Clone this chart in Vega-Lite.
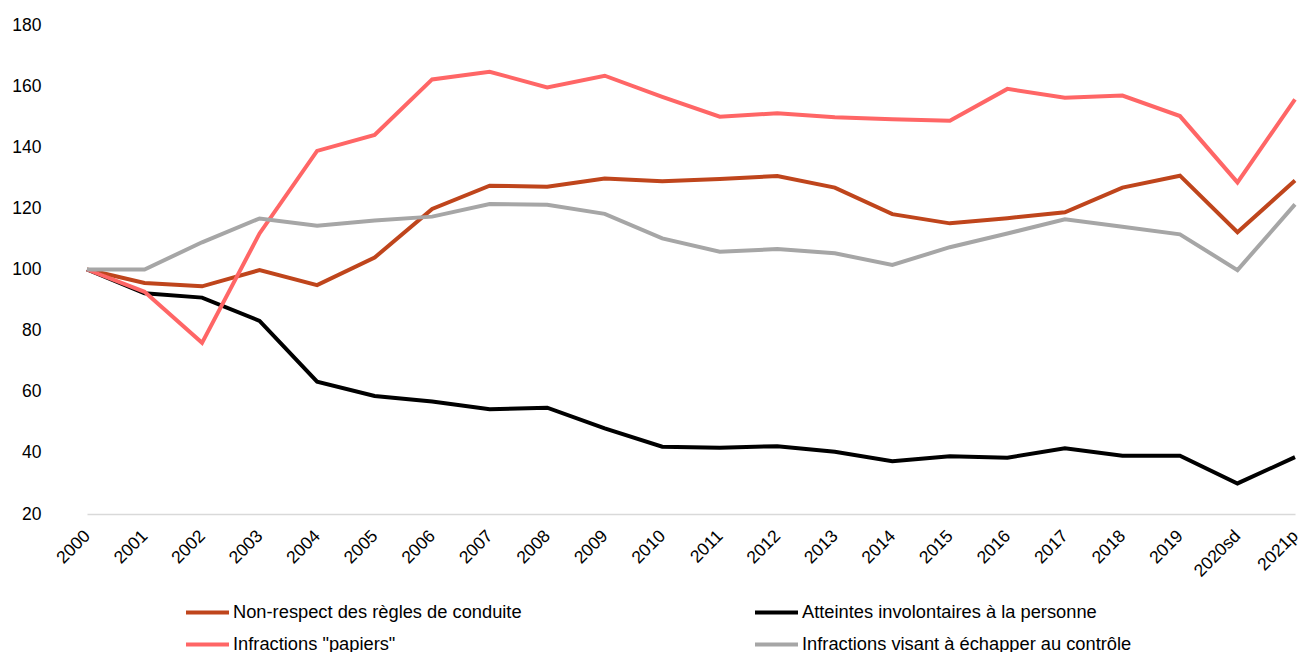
{
  "$schema": "https://vega.github.io/schema/vega-lite/v6.json",
  "autosize": {"type": "none"},
  "padding": {"left": 58, "top": 25, "right": 0, "bottom": 138},
  "width": 1254,
  "height": 489,
  "background": "white",
  "config": {
    "view": {"stroke": null},
    "font": "Liberation Sans",
    "axis": {"labelFont": "Liberation Sans", "labelFontSize": 17.5, "labelColor": "#000000", "grid": false, "ticks": false},
    "legend": {"labelFont": "Liberation Sans", "labelFontSize": 18.3, "labelColor": "#000000"}
  },
  "data": {
    "values": [
      {"year": "2000", "serie": "Non-respect des règles de conduite", "value": 100},
      {"year": "2001", "serie": "Non-respect des règles de conduite", "value": 95.6},
      {"year": "2002", "serie": "Non-respect des règles de conduite", "value": 94.5},
      {"year": "2003", "serie": "Non-respect des règles de conduite", "value": 99.8},
      {"year": "2004", "serie": "Non-respect des règles de conduite", "value": 94.9},
      {"year": "2005", "serie": "Non-respect des règles de conduite", "value": 103.9},
      {"year": "2006", "serie": "Non-respect des règles de conduite", "value": 119.8},
      {"year": "2007", "serie": "Non-respect des règles de conduite", "value": 127.4},
      {"year": "2008", "serie": "Non-respect des règles de conduite", "value": 127.1},
      {"year": "2009", "serie": "Non-respect des règles de conduite", "value": 129.8},
      {"year": "2010", "serie": "Non-respect des règles de conduite", "value": 128.9},
      {"year": "2011", "serie": "Non-respect des règles de conduite", "value": 129.6},
      {"year": "2012", "serie": "Non-respect des règles de conduite", "value": 130.6},
      {"year": "2013", "serie": "Non-respect des règles de conduite", "value": 126.8},
      {"year": "2014", "serie": "Non-respect des règles de conduite", "value": 118.1},
      {"year": "2015", "serie": "Non-respect des règles de conduite", "value": 115.1},
      {"year": "2016", "serie": "Non-respect des règles de conduite", "value": 116.8},
      {"year": "2017", "serie": "Non-respect des règles de conduite", "value": 118.7},
      {"year": "2018", "serie": "Non-respect des règles de conduite", "value": 126.8},
      {"year": "2019", "serie": "Non-respect des règles de conduite", "value": 130.7},
      {"year": "2020sd", "serie": "Non-respect des règles de conduite", "value": 112.2},
      {"year": "2021p", "serie": "Non-respect des règles de conduite", "value": 129.1},
      {"year": "2000", "serie": "Atteintes involontaires à la personne", "value": 100},
      {"year": "2001", "serie": "Atteintes involontaires à la personne", "value": 92.2},
      {"year": "2002", "serie": "Atteintes involontaires à la personne", "value": 90.8},
      {"year": "2003", "serie": "Atteintes involontaires à la personne", "value": 83.2},
      {"year": "2004", "serie": "Atteintes involontaires à la personne", "value": 63.3},
      {"year": "2005", "serie": "Atteintes involontaires à la personne", "value": 58.6},
      {"year": "2006", "serie": "Atteintes involontaires à la personne", "value": 56.8},
      {"year": "2007", "serie": "Atteintes involontaires à la personne", "value": 54.3},
      {"year": "2008", "serie": "Atteintes involontaires à la personne", "value": 54.8},
      {"year": "2009", "serie": "Atteintes involontaires à la personne", "value": 48.0},
      {"year": "2010", "serie": "Atteintes involontaires à la personne", "value": 42.0},
      {"year": "2011", "serie": "Atteintes involontaires à la personne", "value": 41.7},
      {"year": "2012", "serie": "Atteintes involontaires à la personne", "value": 42.2},
      {"year": "2013", "serie": "Atteintes involontaires à la personne", "value": 40.4},
      {"year": "2014", "serie": "Atteintes involontaires à la personne", "value": 37.3},
      {"year": "2015", "serie": "Atteintes involontaires à la personne", "value": 38.9},
      {"year": "2016", "serie": "Atteintes involontaires à la personne", "value": 38.4},
      {"year": "2017", "serie": "Atteintes involontaires à la personne", "value": 41.5},
      {"year": "2018", "serie": "Atteintes involontaires à la personne", "value": 39.1},
      {"year": "2019", "serie": "Atteintes involontaires à la personne", "value": 39.1},
      {"year": "2020sd", "serie": "Atteintes involontaires à la personne", "value": 30.0},
      {"year": "2021p", "serie": "Atteintes involontaires à la personne", "value": 38.6},
      {"year": "2000", "serie": "Infractions \"papiers\"", "value": 100},
      {"year": "2001", "serie": "Infractions \"papiers\"", "value": 92.7},
      {"year": "2002", "serie": "Infractions \"papiers\"", "value": 76.0},
      {"year": "2003", "serie": "Infractions \"papiers\"", "value": 111.8},
      {"year": "2004", "serie": "Infractions \"papiers\"", "value": 138.8},
      {"year": "2005", "serie": "Infractions \"papiers\"", "value": 144.0},
      {"year": "2006", "serie": "Infractions \"papiers\"", "value": 162.2},
      {"year": "2007", "serie": "Infractions \"papiers\"", "value": 164.7},
      {"year": "2008", "serie": "Infractions \"papiers\"", "value": 159.6},
      {"year": "2009", "serie": "Infractions \"papiers\"", "value": 163.4},
      {"year": "2010", "serie": "Infractions \"papiers\"", "value": 156.5},
      {"year": "2011", "serie": "Infractions \"papiers\"", "value": 150.0},
      {"year": "2012", "serie": "Infractions \"papiers\"", "value": 151.1},
      {"year": "2013", "serie": "Infractions \"papiers\"", "value": 149.8},
      {"year": "2014", "serie": "Infractions \"papiers\"", "value": 149.2},
      {"year": "2015", "serie": "Infractions \"papiers\"", "value": 148.7},
      {"year": "2016", "serie": "Infractions \"papiers\"", "value": 159.1},
      {"year": "2017", "serie": "Infractions \"papiers\"", "value": 156.2},
      {"year": "2018", "serie": "Infractions \"papiers\"", "value": 156.9},
      {"year": "2019", "serie": "Infractions \"papiers\"", "value": 150.2},
      {"year": "2020sd", "serie": "Infractions \"papiers\"", "value": 128.5},
      {"year": "2021p", "serie": "Infractions \"papiers\"", "value": 155.7},
      {"year": "2000", "serie": "Infractions visant à échapper au contrôle", "value": 100},
      {"year": "2001", "serie": "Infractions visant à échapper au contrôle", "value": 100.0},
      {"year": "2002", "serie": "Infractions visant à échapper au contrôle", "value": 108.9},
      {"year": "2003", "serie": "Infractions visant à échapper au contrôle", "value": 116.7},
      {"year": "2004", "serie": "Infractions visant à échapper au contrôle", "value": 114.3},
      {"year": "2005", "serie": "Infractions visant à échapper au contrôle", "value": 116.0},
      {"year": "2006", "serie": "Infractions visant à échapper au contrôle", "value": 117.3},
      {"year": "2007", "serie": "Infractions visant à échapper au contrôle", "value": 121.4},
      {"year": "2008", "serie": "Infractions visant à échapper au contrôle", "value": 121.2},
      {"year": "2009", "serie": "Infractions visant à échapper au contrôle", "value": 118.2},
      {"year": "2010", "serie": "Infractions visant à échapper au contrôle", "value": 110.2},
      {"year": "2011", "serie": "Infractions visant à échapper au contrôle", "value": 105.8},
      {"year": "2012", "serie": "Infractions visant à échapper au contrôle", "value": 106.7},
      {"year": "2013", "serie": "Infractions visant à échapper au contrôle", "value": 105.3},
      {"year": "2014", "serie": "Infractions visant à échapper au contrôle", "value": 101.5},
      {"year": "2015", "serie": "Infractions visant à échapper au contrôle", "value": 107.3},
      {"year": "2016", "serie": "Infractions visant à échapper au contrôle", "value": 111.8},
      {"year": "2017", "serie": "Infractions visant à échapper au contrôle", "value": 116.4},
      {"year": "2018", "serie": "Infractions visant à échapper au contrôle", "value": 114.0},
      {"year": "2019", "serie": "Infractions visant à échapper au contrôle", "value": 111.5},
      {"year": "2020sd", "serie": "Infractions visant à échapper au contrôle", "value": 99.8},
      {"year": "2021p", "serie": "Infractions visant à échapper au contrôle", "value": 121.3}
    ]
  },
  "mark": {"type": "line", "strokeWidth": 4, "strokeJoin": "miter"},
  "encoding": {
    "x": {
      "field": "year",
      "type": "ordinal",
      "sort": null,
      "scale": {"type": "point", "range": [29, 1237], "padding": 0},
      "axis": {
        "title": null,
        "labelAngle": -45,
        "labelAlign": "right",
        "labelBaseline": "middle",
        "labelPadding": 19,
        "domainColor": "#d9d9d9",
        "domainWidth": 1.5
      }
    },
    "y": {
      "field": "value",
      "type": "quantitative",
      "scale": {"domain": [20, 180], "nice": false, "zero": false},
      "axis": {
        "title": null,
        "values": [20, 40, 60, 80, 100, 120, 140, 160, 180],
        "domain": false,
        "labelPadding": 17
      }
    },
    "color": {
      "field": "serie",
      "type": "nominal",
      "sort": null,
      "scale": {
        "domain": ["Non-respect des règles de conduite", "Infractions \"papiers\"", "Atteintes involontaires à la personne", "Infractions visant à échapper au contrôle"],
        "range": ["#BF451C", "#FF6666", "#000000", "#A6A6A6"]
      },
      "legend": {
        "title": null,
        "orient": "none",
        "legendX": 126,
        "legendY": 564,
        "columns": 2,
        "columnPadding": 225,
        "rowPadding": -15.5,
        "symbolType": "stroke",
        "symbolSize": 1849,
        "symbolStrokeWidth": 4,
        "labelOffset": 2,
        "labelLimit": 0
      }
    }
  }
}
